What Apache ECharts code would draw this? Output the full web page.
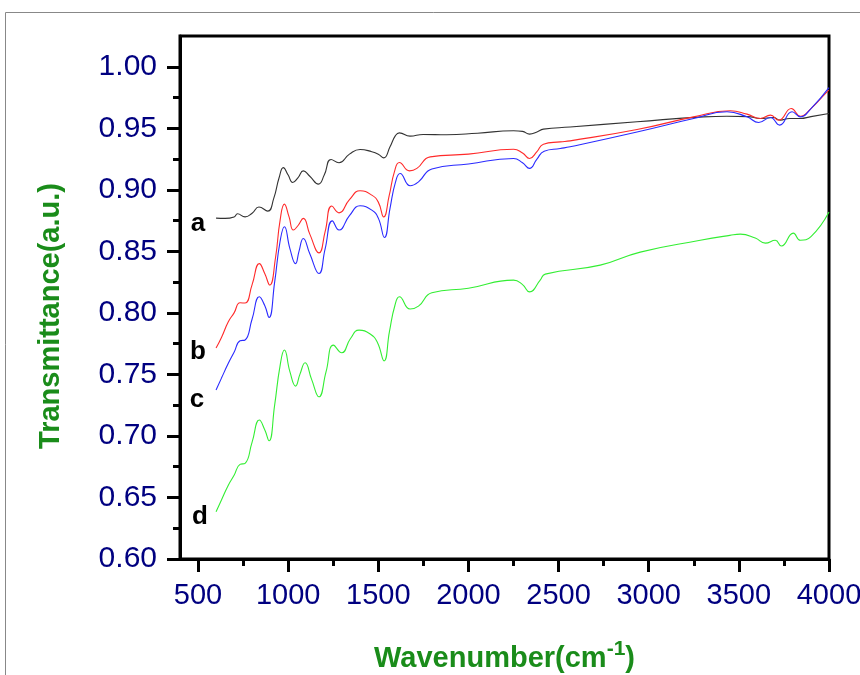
<!DOCTYPE html>
<html>
<head>
<meta charset="utf-8">
<script src="https://cdn.jsdelivr.net/npm/echarts@6/dist/echarts.min.js"></script>
<style>html,body{margin:0;padding:0;background:#fff}#c{width:860px;height:675px}</style>
</head>
<body>
<div id="c"></div>
<script>
const xTicks = [500, 1000, 1500, 2000, 2500, 3000, 3500, 4000];
const xMinor = [750, 1250, 1750, 2250, 2750, 3250, 3750];
const yTicks = [0.60, 0.65, 0.70, 0.75, 0.80, 0.85, 0.90, 0.95, 1.00];
const yMinor = [0.625, 0.675, 0.725, 0.775, 0.825, 0.875, 0.925, 0.975];

const aX = [600,650,700,719,761,800,838,887,920,950,973,1000,1025,1055,1084,1120,1168,1200,1238,1282,1340,1399,1464,1500,1530,1565,1595,1617,1676,1749,1880,2050,2250,2300,2339,2380,2416,2564,2935,3304,3434,3550,3619,3691,3730,3780,3841,3900,4000];
const aY = [0.877,0.8768,0.878,0.8805,0.878,0.881,0.886,0.8827,0.893,0.910,0.918,0.912,0.906,0.910,0.9154,0.911,0.9046,0.912,0.9247,0.922,0.929,0.9328,0.931,0.929,0.926,0.935,0.944,0.9463,0.9436,0.945,0.9447,0.946,0.948,0.9475,0.9453,0.947,0.9493,0.951,0.9553,0.9593,0.9598,0.9595,0.958,0.9588,0.9566,0.958,0.958,0.9595,0.962];

const bX = [600,630,668,700,733,761,800,840,870,898,930,955,979,1005,1029,1055,1084,1120,1171,1205,1242,1282,1340,1399,1464,1500,1530,1560,1590,1617,1673,1714,1788,2000,2250,2300,2339,2380,2416,2509,2564,2935,3249,3452,3545,3619,3675,3721,3791,3841,3900,3989,4000];
const bY = [0.7714,0.780,0.7928,0.800,0.8082,0.808,0.823,0.840,0.832,0.8226,0.845,0.875,0.8884,0.878,0.8673,0.871,0.8768,0.864,0.8488,0.866,0.8868,0.8813,0.892,0.8992,0.8957,0.890,0.878,0.895,0.915,0.9222,0.9154,0.9174,0.9268,0.929,0.933,0.930,0.9255,0.931,0.9371,0.939,0.9398,0.949,0.9593,0.9642,0.9615,0.958,0.9607,0.9566,0.9661,0.9598,0.966,0.9796,0.981];

const cX = [600,630,668,700,733,761,800,840,870,894,925,955,979,1010,1041,1060,1084,1120,1171,1205,1245,1282,1340,1399,1464,1500,1534,1565,1595,1621,1677,1723,1797,2000,2250,2300,2339,2380,2420,2509,2564,2935,3249,3434,3545,3610,3675,3726,3795,3841,3900,4000];
const cY = [0.7373,0.747,0.759,0.768,0.7773,0.778,0.795,0.8131,0.806,0.7963,0.825,0.858,0.870,0.852,0.840,0.850,0.8605,0.848,0.832,0.852,0.8748,0.8673,0.879,0.887,0.8835,0.877,0.8613,0.885,0.906,0.9133,0.9033,0.9065,0.917,0.921,0.9255,0.922,0.9174,0.925,0.9314,0.9336,0.935,0.947,0.958,0.9634,0.9593,0.9547,0.9588,0.9526,0.9634,0.9593,0.966,0.983];

const dX = [600,630,668,700,733,761,800,840,870,894,925,955,979,1010,1041,1065,1094,1130,1171,1210,1251,1297,1345,1393,1455,1495,1532,1562,1592,1617,1676,1723,1797,2000,2250,2300,2339,2398,2426,2731,2953,3286,3450,3508,3591,3647,3702,3736,3802,3841,3900,4000];
const dY = [0.6384,0.648,0.660,0.668,0.6769,0.6777,0.695,0.7129,0.705,0.6961,0.725,0.757,0.7698,0.752,0.7405,0.750,0.7595,0.746,0.7318,0.752,0.7738,0.7676,0.779,0.786,0.7828,0.776,0.761,0.785,0.806,0.8131,0.8031,0.8055,0.8163,0.820,0.8266,0.823,0.8171,0.8266,0.8315,0.8388,0.8494,0.859,0.863,0.864,0.8608,0.8567,0.859,0.8543,0.8648,0.859,0.862,0.882];

const seriesNames = ['a', 'b', 'c', 'd'];
const seriesColors = ['#333333', '#ff2a2a', '#2a2aff', '#33ee33'];
const seriesX = [aX, bX, cX, dX];
const seriesY = [aY, bY, cY, dY];

const FONT = '"Liberation Sans", Arial, sans-serif';
const chart = echarts.init(document.getElementById('c'), null, {renderer: 'canvas'});

const series = seriesNames.map((n, i) => ({
  name: n,
  type: 'line',
  xAxisIndex: 0,
  yAxisIndex: 0,
  data: seriesX[i].map((x, j) => [x, seriesY[i][j]]),
  showSymbol: false,
  smooth: 0.5,
  lineStyle: {color: seriesColors[i], width: 1.1},
  itemStyle: {color: seriesColors[i]},
  animation: false,
  silent: true
}));

const labelPos = {a: [198, 224], b: [198, 352], c: [197, 400], d: [200, 517]};

chart.setOption({
  animation: false,
  backgroundColor: '#fff',
  grid: {left: 180, right: 31, top: 36, bottom: 116, show: true, borderColor: '#000', borderWidth: 3,
    containLabel: false, outerBoundsMode: 'none'},
  xAxis: [{
    type: 'value', min: 400, max: 4000,
    axisLine: {show: true, lineStyle: {color: '#000', width: 3}},
    axisTick: {show: true, customValues: xTicks, length: 13, lineStyle: {color: '#000', width: 3}},
    axisLabel: {customValues: xTicks, color: '#000080', fontSize: 29, fontFamily: FONT, margin: 22,
      formatter: v => String(v), hideOverlap: false},
    splitLine: {show: false},
    name: '{n|Wavenumber(cm}{s|-1}{n|)}',
    nameLocation: 'middle', nameGap: 80,
    nameTextStyle: {rich: {
      n: {fontSize: 29, fontWeight: 'bold', color: '#1a8c1a', fontFamily: FONT, verticalAlign: 'bottom', lineHeight: 34},
      s: {fontSize: 21, fontWeight: 'bold', color: '#1a8c1a', fontFamily: FONT, verticalAlign: 'top', lineHeight: 34, padding: [0, 0, 16, 0]}
    }}
  }, {
    type: 'value', min: 400, max: 4000, position: 'bottom', offset: 0,
    axisLine: {show: false},
    axisTick: {show: true, customValues: xMinor, length: 7, lineStyle: {color: '#000', width: 3}},
    axisLabel: {show: false},
    splitLine: {show: false}
  }],
  yAxis: [{
    type: 'value', min: 0.6, max: 1.025,
    axisLine: {show: true, lineStyle: {color: '#000', width: 3}},
    axisTick: {show: true, customValues: yTicks, length: 13, lineStyle: {color: '#000', width: 3}},
    axisLabel: {customValues: yTicks, color: '#000080', fontSize: 30, fontFamily: FONT, margin: 23,
      formatter: v => v.toFixed(2), hideOverlap: false},
    splitLine: {show: false}
  }, {
    type: 'value', min: 0.6, max: 1.025, position: 'left', offset: 0,
    axisLine: {show: false},
    axisTick: {show: true, customValues: yMinor, length: 7, lineStyle: {color: '#000', width: 3}},
    axisLabel: {show: false},
    splitLine: {show: false}
  }],
  series: series,
  graphic: [
    {type: 'rect', shape: {x: 5.5, y: 12.5, width: 900, height: 700}, style: {fill: null, stroke: '#888', lineWidth: 1}, silent: true, z: -10},
    {type: 'text', x: 51, y: 316, rotation: Math.PI / 2,
      style: {text: 'Transmittance(a.u.)', fill: '#1a8c1a', font: 'bold 29px ' + FONT, textAlign: 'center', textVerticalAlign: 'middle'}},
    ...seriesNames.map(n => ({type: 'text', x: labelPos[n][0], y: labelPos[n][1],
      style: {text: n, fill: '#000', font: 'bold 26px ' + FONT, textAlign: 'center', textVerticalAlign: 'middle'}}))
  ]
});
</script>
</body>
</html>
